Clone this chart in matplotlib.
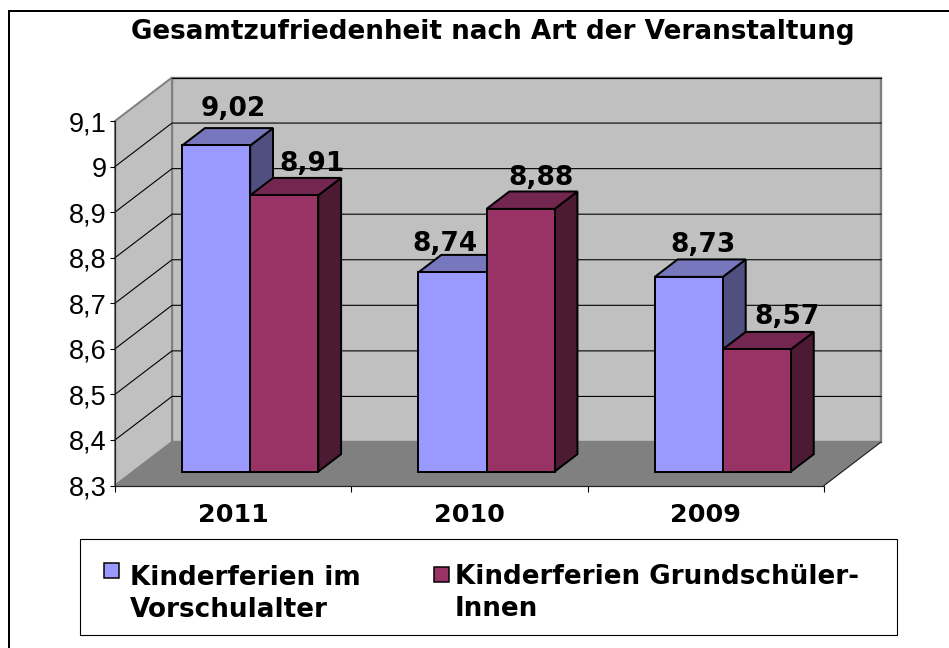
import matplotlib
matplotlib.use('Agg')
import matplotlib.pyplot as plt
from matplotlib.patches import Polygon, Rectangle

# Werte aus dem Bild
years = ['2011', '2010', '2009']
series_names = ['Kinderferien im\nVorschulalter', 'Kinderferien Grundschüler-\nInnen']
vorschule = [9.02, 8.74, 8.73]
grundschule = [8.91, 8.88, 8.57]
y_ticks = [8.3, 8.4, 8.5, 8.6, 8.7, 8.8, 8.9, 9.0, 9.1]
y_labels = ['8,3', '8,4', '8,5', '8,6', '8,7', '8,8', '8,9', '9', '9,1']

W, H = 949, 648
Y_MIN, Y_MAX = 8.3, 9.1

# Schraegprojektion: Versatz der Rueckwand in Datenkoordinaten
DEPTH_X = 57 / 709 * 3
DEPTH_Y = 43.5 / 364.5 * 0.8
BAR_W = 0.288
BAR_D0, BAR_D1 = 0.32, 0.72
GROUP_LEFT = 0.207
BAR_SCALE = 0.994  # Saeulen stehen tiefer im Bild, minimal kleiner

colors = [
    {'front': '#9999FF', 'top': '#7777BD', 'side': '#4F4F80'},
    {'front': '#993366', 'top': '#732650', 'side': '#4D1A33'},
]
label_shift = [[(-6, 12), (5, 7)], [(-30, 4), (-2, 7)], [(-9, 7), (7, 8)]]


def proj(x, y, d):
    return (x + d * DEPTH_X, y + d * DEPTH_Y)


def poly(ax, pts, fc, ec='black', lw=1.5, z=3):
    ax.add_patch(Polygon(pts, closed=True, facecolor=fc, edgecolor=ec,
                         linewidth=lw, zorder=z, clip_on=False, joinstyle='miter'))


def px(v):
    # Pixel -> Punkt bei dpi 100
    return v * 0.72


plt.rcParams['font.family'] = ['DejaVu Sans']
fig = plt.figure(figsize=(W / 100, H / 100), dpi=100)

# Rahmen: nur links und oben sichtbar, rechts und unten abgeschnitten
fig.add_artist(Rectangle((8.5 / W, -0.02), 1.1, 1.02 - 11 / H, transform=fig.transFigure,
                         fill=False, edgecolor='black', linewidth=px(2)))

ax = fig.add_axes([115 / W, 1 - 485.5 / H, 709 / W, 364.5 / H])
ax.set_xlim(0, 3)
ax.set_ylim(Y_MIN, Y_MAX)
ax.patch.set_visible(False)
for name in ['top', 'right']:
    ax.spines[name].set_visible(False)
for name in ['left', 'bottom']:
    ax.spines[name].set_linewidth(px(1.2))
    ax.spines[name].set_color('#222222')
    ax.spines[name].set_zorder(2)

# Waende und Boden
poly(ax, [proj(0, Y_MIN, 1), proj(3, Y_MIN, 1), proj(3, Y_MAX, 1), proj(0, Y_MAX, 1)],
     '#C0C0C0', ec='#808080', lw=px(2.4), z=1)
poly(ax, [proj(0, Y_MIN, 0), proj(0, Y_MIN, 1), proj(0, Y_MAX, 1), proj(0, Y_MAX, 0)],
     '#C0C0C0', ec='#808080', lw=px(2), z=1)
poly(ax, [proj(0, Y_MIN, 0), proj(3, Y_MIN, 0), proj(3, Y_MIN, 1), proj(0, Y_MIN, 1)],
     '#808080', ec='#808080', lw=px(1), z=1.1)

# Gitterlinien
for t in y_ticks[1:-1]:
    xs, ys = zip(proj(0, t, 0), proj(0, t, 1), proj(3, t, 1))
    ax.plot(xs, ys, color='black', lw=px(1.1), zorder=1.05, clip_on=False)
xs, ys = zip(proj(0, Y_MAX, 1), proj(3, Y_MAX, 1))
ax.plot(xs, ys, color='black', lw=px(1.1), zorder=1.05, clip_on=False)
xs, ys = zip(proj(3, Y_MIN, 0), proj(3, Y_MIN, 1))
ax.plot(xs, ys, color='#222222', lw=px(1.1), zorder=1.2, clip_on=False)

# Saeulen
for i, vals in enumerate(zip(vorschule, grundschule)):
    for j, v in enumerate(vals):
        c = colors[j]
        x0 = i + GROUP_LEFT + j * BAR_W
        x1 = x0 + BAR_W
        z = 3 + i + j * 0.1
        d0, d1 = BAR_D0, BAR_D1
        h = Y_MIN + (v - Y_MIN) * BAR_SCALE
        poly(ax, [proj(x1, Y_MIN, d0), proj(x1, Y_MIN, d1), proj(x1, h, d1), proj(x1, h, d0)],
             c['side'], lw=px(2), z=z)
        poly(ax, [proj(x0, h, d0), proj(x1, h, d0), proj(x1, h, d1), proj(x0, h, d1)],
             c['top'], lw=px(2), z=z)
        poly(ax, [proj(x0, Y_MIN, d0), proj(x1, Y_MIN, d0), proj(x1, h, d0), proj(x0, h, d0)],
             c['front'], lw=px(2), z=z + 0.01)
        dx, dy = label_shift[i][j]
        ax.annotate(f'{v:.2f}'.replace('.', ','), xy=proj((x0 + x1) / 2, h, d1),
                    xytext=(dx, dy), textcoords='offset pixels', ha='center', va='baseline',
                    fontsize=19, fontweight='bold', color='black', zorder=20,
                    annotation_clip=False)

# Achsen
ax.set_yticks(y_ticks)
ax.set_yticklabels(y_labels, family='Liberation Sans', fontsize=19.5)
ax.tick_params(axis='y', length=px(5), width=px(1.1), pad=px(3.5))
ax.set_xticks([0, 1, 2, 3])
ax.set_xticklabels([])
ax.tick_params(axis='x', length=px(6), width=px(1.1))
ax.set_xticks([0.5, 1.5, 2.5], minor=True)
ax.set_xticklabels(years, minor=True, fontsize=18.3, fontweight='bold')
ax.tick_params(axis='x', which='minor', length=0, pad=px(17))

# Titel
fig.text(493 / W, 1 - 39 / H, 'Gesamtzufriedenheit nach Art der Veranstaltung',
         ha='center', va='baseline', fontsize=18.9, fontweight='bold')

# Legende
fig.add_artist(Rectangle((80 / W, 1 - 635 / H), 817 / W, 96 / H, transform=fig.transFigure,
                         facecolor='white', edgecolor='black', linewidth=px(1.1)))
handle_x = [104, 434]
handle_y = [563, 567]
text_x = [130, 455]
last_baseline = [617, 616]
for j, name in enumerate(series_names):
    fig.add_artist(Rectangle((handle_x[j] / W, 1 - (handle_y[j] + 15) / H), 15 / W, 15 / H,
                             transform=fig.transFigure, facecolor=colors[j]['front'],
                             edgecolor='black', linewidth=px(1.5)))
    fig.text(text_x[j] / W, 1 - last_baseline[j] / H, name, ha='left', va='baseline',
             fontsize=18.9, fontweight='bold', linespacing=1.3)

fig.savefig('out.png', dpi=100)
